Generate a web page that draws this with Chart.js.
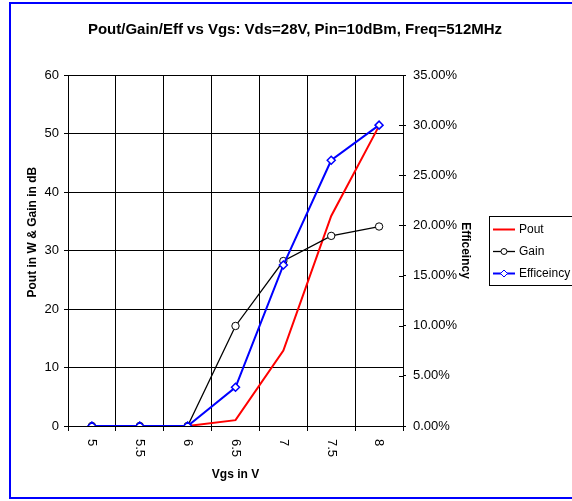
<!DOCTYPE html>
<html><head><meta charset="utf-8">
<script src="https://cdn.jsdelivr.net/npm/chart.js@4/dist/chart.umd.min.js"></script>
<style>html,body{margin:0;padding:0;background:#fff;}canvas{display:block;}</style>
</head><body>
<canvas id="c" width="572" height="501"></canvas>
<script>
// ---- data ----
const vgsLabels = ['5', '5.5', '6', '6.5', '7', '7.5', '8'];
const poutW = [0, 0, 0, 1.0, 12.9, 35.9, 51.3];
const gainDb = [0, 0, 0, 17.1, 28.2, 32.5, 34.1];
const efficiency = [0, 0, 0, 0.0386, 0.1605, 0.265, 0.300];
const leftTicks = [0, 10, 20, 30, 40, 50, 60];
const rightTicks = [0, 0.05, 0.10, 0.15, 0.20, 0.25, 0.30, 0.35];

const FONT = "'Liberation Sans', Arial, sans-serif";

const frame = {
  id: 'frame',
  beforeDraw(chart) {
    const c = chart.ctx;
    c.save();
    c.fillStyle = '#fff';
    c.fillRect(0, 0, chart.width, chart.height);
    c.restore();
  },
  afterDraw(chart) {
    const c = chart.ctx;
    c.save();
    c.strokeStyle = '#0000ff';
    c.lineWidth = 2;
    c.strokeRect(10, 3, 600, 495);
    c.restore();
  }
};

const xLabels = {
  id: 'xLabels',
  afterDraw(chart) {
    const s = chart.scales.x, c = chart.ctx;
    c.save();
    c.font = '13px ' + FONT;
    c.fillStyle = '#000';
    c.textAlign = 'left';
    c.textBaseline = 'middle';
    vgsLabels.forEach((lab, i) => {
      const x = s.getPixelForTick(i);
      c.save();
      c.translate(x, s.top + 13);
      c.rotate(Math.PI / 2);
      c.fillText(lab, 0, 0);
      c.restore();
    });
    c.restore();
  }
};

const innerTicks = {
  id: 'innerTicks',
  afterDraw(chart) {
    const s = chart.scales.y2, c = chart.ctx;
    c.save();
    c.strokeStyle = '#000';
    c.lineWidth = 1;
    rightTicks.forEach(v => {
      const y = Math.round(s.getPixelForValue(v)) + 0.5;
      c.beginPath();
      c.moveTo(s.left - 4, y);
      c.lineTo(s.left, y);
      c.stroke();
    });
    c.restore();
  }
};

const boxLegend = {
  id: 'boxLegend',
  afterDraw(chart) {
    const c = chart.ctx;
    const x0 = 489.5, y0 = 216.5;
    c.save();
    c.strokeStyle = '#000';
    c.lineWidth = 1;
    c.strokeRect(x0, y0, 100, 69);
    const rows = [229, 251, 273];
    chart.data.datasets.forEach((ds, i) => {
      const y = rows[i];
      c.strokeStyle = ds.borderColor;
      c.lineWidth = ds.borderWidth;
      c.beginPath();
      c.moveTo(493, y + 0.5);
      c.lineTo(515, y + 0.5);
      c.stroke();
      if (ds.pointStyle === 'circle') {
        c.lineWidth = 1;
        c.fillStyle = '#fff';
        c.beginPath();
        c.arc(504, y + 0.5, 3, 0, Math.PI * 2);
        c.fill(); c.stroke();
      } else if (ds.pointStyle === 'rectRot') {
        c.lineWidth = 1;
        c.fillStyle = '#fff';
        c.beginPath();
        c.moveTo(504, y - 3); c.lineTo(507.5, y + 0.5); c.lineTo(504, y + 4); c.lineTo(500.5, y + 0.5); c.closePath();
        c.fill(); c.stroke();
      }
      c.fillStyle = '#000';
      c.font = '12px ' + FONT;
      c.textAlign = 'left';
      c.textBaseline = 'middle';
      c.fillText(ds.label, 519, y + 1);
    });
    c.restore();
  }
};

new Chart(document.getElementById('c'), {
  type: 'line',
  data: {
    labels: vgsLabels,
    datasets: [
      { label: 'Pout', data: poutW, yAxisID: 'y', borderColor: '#ff0000', backgroundColor: '#ff0000', borderWidth: 2, pointRadius: 0, pointStyle: false, order: 3, tension: 0 },
      { label: 'Gain', data: gainDb, yAxisID: 'y', borderColor: '#000000', backgroundColor: '#ffffff', borderWidth: 1.3, pointStyle: 'circle', pointRadius: 3.7, pointBorderWidth: 1, pointBackgroundColor: '#fff', order: 2, tension: 0 },
      { label: 'Efficeincy', data: efficiency, yAxisID: 'y2', borderColor: '#0000ff', backgroundColor: '#ffffff', borderWidth: 2, pointStyle: 'rectRot', pointRadius: 4, pointBorderWidth: 1.5, pointBackgroundColor: '#fff', order: 1, tension: 0 }
    ]
  },
  options: {
    responsive: false,
    animation: false,
    layout: { padding: { left: 18, right: 0, top: 0, bottom: 15 } },
    plugins: {
      legend: { display: false },
      tooltip: { enabled: false },
      title: {
        display: true,
        text: 'Pout/Gain/Eff vs Vgs: Vds=28V, Pin=10dBm, Freq=512MHz',
        color: '#000',
        font: { family: FONT, size: 15, weight: 'bold' },
        padding: { top: 21, bottom: 36 }
      }
    },
    scales: {
      x: {
        type: 'category',
        offset: true,
        grid: { offset: true, color: '#000', lineWidth: 1, tickLength: 5, drawTicks: true },
        border: { color: '#000' },
        ticks: { display: false },
        title: { display: true, text: 'Vgs in V', color: '#000', font: { family: FONT, size: 12, weight: 'bold' }, padding: { top: 4, bottom: 4 } },
        afterFit(s) { s.height = 60; }
      },
      y: {
        position: 'left',
        min: 0, max: 60,
        afterBuildTicks(s) { s.ticks = leftTicks.map(v => ({ value: v })); },
        ticks: { color: '#000', font: { family: FONT, size: 13 }, padding: 5 },
        grid: { color: '#000', lineWidth: 1, tickLength: 4 },
        border: { color: '#000' },
        title: { display: true, text: '           Pout in W & Gain in dB', color: '#000', font: { family: FONT, size: 12, weight: 'bold' }, padding: { top: 7, bottom: 4 } },
        afterFit(s) { s.width = 50; }
      },
      y2: {
        position: 'right',
        min: 0, max: 0.35,
        afterBuildTicks(s) { s.ticks = rightTicks.map(v => ({ value: v })); },
        ticks: { color: '#000', font: { family: FONT, size: 13 }, padding: 7, callback: v => (v * 100).toFixed(2) + '%' },
        grid: { drawOnChartArea: false, color: '#000', lineWidth: 1, tickLength: 3 },
        border: { color: '#000' },
        title: { display: true, text: 'Efficeincy', color: '#000', font: { family: FONT, size: 12, weight: 'bold' }, padding: { top: 99.3, bottom: 4 } },
        afterFit(s) { s.width = 169; }
      }
    }
  },
  plugins: [frame, xLabels, innerTicks, boxLegend]
});
</script>
</body></html>
